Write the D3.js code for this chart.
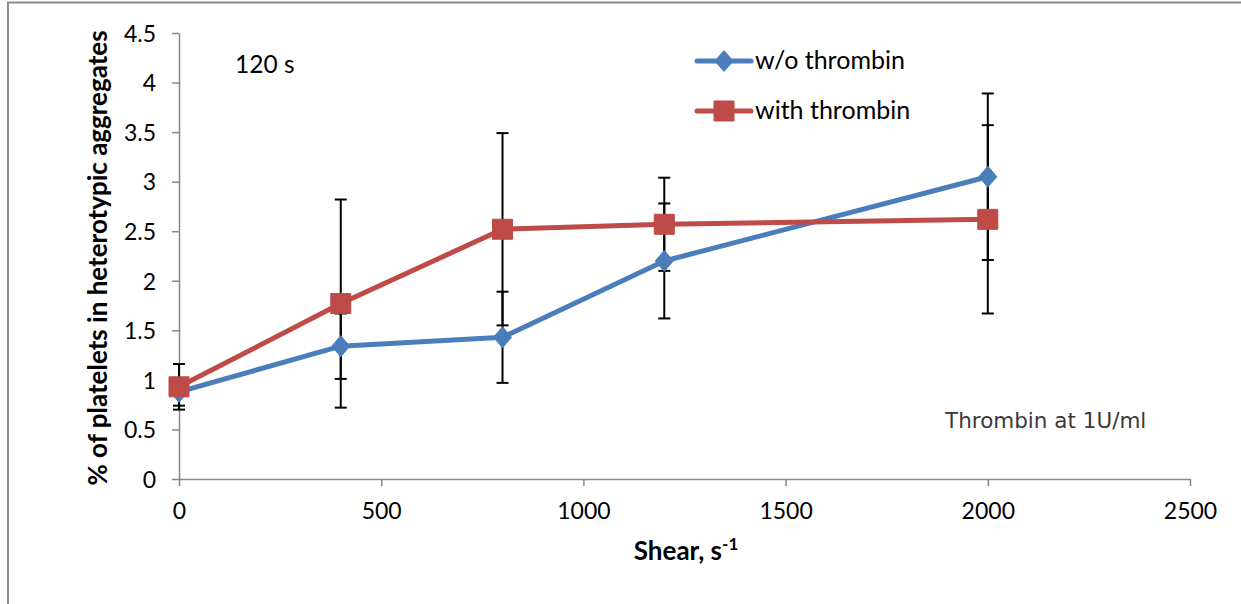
<!DOCTYPE html>
<html>
<head>
<meta charset="utf-8">
<script src="https://cdn.jsdelivr.net/npm/d3@7"></script>
<style>
  html, body { margin: 0; padding: 0; background: #fff; }
  svg { display: block; }
  text { font-family: Lato, "Open Sans", sans-serif; fill: #000; }
</style>
</head>
<body>
<script>
// Shear rates (s^-1)
const shear = [0, 400, 800, 1200, 2000];

// % of platelets in heterotypic aggregates and error half-widths
const withoutThrombin    = [0.88, 1.34, 1.43, 2.20, 3.05];
const withoutThrombinErr = [0.14, 0.33, 0.46, 0.58, 0.84];
const withThrombin       = [0.93, 1.77, 2.52, 2.57, 2.62];
const withThrombinErr    = [0.23, 1.05, 0.97, 0.47, 0.95];

const seriesNames = ["w/o thrombin", "with thrombin"];
const xTicks = [0, 500, 1000, 1500, 2000, 2500];
const yTicks = [0, 0.5, 1, 1.5, 2, 2.5, 3, 3.5, 4, 4.5];

const W = 1241, H = 604;
const blue = "#4A7EBB", red = "#BE4B48", axisGrey = "#868686";

const svg = d3.select("body").append("svg").attr("width", W).attr("height", H);

// outer chart frame (top and left edges)
svg.append("line").attr("x1", 7).attr("x2", W).attr("y1", 2.5).attr("y2", 2.5)
  .attr("stroke", "#8c8c8c").attr("stroke-width", 2);
svg.append("line").attr("x1", 8).attr("x2", 8).attr("y1", 2).attr("y2", H)
  .attr("stroke", "#8c8c8c").attr("stroke-width", 2);

const x = d3.scaleLinear().domain([0, 2500]).range([179, 1190]);
const y = d3.scaleLinear().domain([0, 4.5]).range([479, 33]);

// axes
const yAxis = svg.append("g").attr("transform", `translate(${x(0)},0)`)
  .call(d3.axisLeft(y).tickValues(yTicks).tickFormat(d => String(d)).tickSize(7).tickSizeOuter(0).tickPadding(16));
const xAxis = svg.append("g").attr("transform", `translate(0,${y(0)})`)
  .call(d3.axisBottom(x).tickValues(xTicks).tickFormat(d => String(d)).tickSize(7).tickSizeOuter(0));

[yAxis, xAxis].forEach(g => {
  g.select(".domain").attr("stroke", axisGrey).attr("stroke-width", 1.5);
  g.selectAll(".tick line").attr("stroke", axisGrey).attr("stroke-width", 1.5);
  g.selectAll(".tick text").attr("fill", "#000").style("font-size", "23px")
    .style("font-family", "Lato, 'Open Sans', sans-serif");
});
yAxis.selectAll(".tick text").attr("dy", "0.36em");
xAxis.selectAll(".tick text").attr("y", 40).attr("dy", null);

// axis titles
svg.append("text")
  .attr("transform", `translate(107,${(y(0) + y(4.5)) / 2 + 2}) rotate(-90)`)
  .attr("text-anchor", "middle")
  .style("font-size", "26px").style("font-weight", "bold")
  .text("% of platelets in heterotypic aggregates");

const xt = svg.append("text").attr("x", 686).attr("y", 560).attr("text-anchor", "middle")
  .style("font-size", "26px").style("font-weight", "bold");
xt.append("tspan").text("Shear, s");
xt.append("tspan").attr("dy", -10).style("font-size", "17px").text("-1");

// annotations
svg.append("text").attr("x", 235).attr("y", 73).style("font-size", "24.5px").text("120 s");
svg.append("text").attr("x", 945).attr("y", 428)
  .style("font-family", "'DejaVu Sans', sans-serif").style("font-size", "21.5px")
  .attr("fill", "#3a3a3a").style("fill", "#3a3a3a")
  .text("Thrombin at 1U/ml");

const series = [
  { name: seriesNames[0], values: withoutThrombin, err: withoutThrombinErr, color: blue, marker: "diamond" },
  { name: seriesNames[1], values: withThrombin, err: withThrombinErr, color: red, marker: "square" }
];

// error bars
series.forEach(s => {
  const g = svg.append("g").attr("stroke", "#000").attr("stroke-width", 2);
  shear.forEach((sx, i) => {
    const cx = x(sx), lo = y(s.values[i] - s.err[i]), hi = y(s.values[i] + s.err[i]);
    g.append("line").attr("x1", cx).attr("x2", cx).attr("y1", lo).attr("y2", hi);
    g.append("line").attr("x1", cx - 6).attr("x2", cx + 6).attr("y1", lo).attr("y2", lo);
    g.append("line").attr("x1", cx - 6).attr("x2", cx + 6).attr("y1", hi).attr("y2", hi);
  });
});

const line = d3.line().x(d => x(d[0])).y(d => y(d[1]));
const diamond = "M0,-10.5L9,0L0,10.5L-9,0Z";
const square = "M-10,-10H10V10H-10Z";

function drawMarker(g, type, cx, cy, color) {
  g.append("path").attr("d", type === "diamond" ? diamond : square)
    .attr("transform", `translate(${cx},${cy})`)
    .attr("fill", color).attr("stroke", color).attr("stroke-width", 1);
}

series.forEach(s => {
  svg.append("path").datum(shear.map((sx, i) => [sx, s.values[i]]))
    .attr("d", line).attr("fill", "none").attr("stroke", s.color)
    .attr("stroke-width", 5).attr("stroke-linejoin", "round");
});
series.forEach(s => {
  const g = svg.append("g");
  shear.forEach((sx, i) => drawMarker(g, s.marker, x(sx), y(s.values[i]), s.color));
});

// legend
series.forEach((s, i) => {
  const ly = 61 + i * 50;
  svg.append("line").attr("x1", 697).attr("x2", 751).attr("y1", ly).attr("y2", ly)
    .attr("stroke", s.color).attr("stroke-width", 5).attr("stroke-linecap", "round");
  drawMarker(svg, s.marker, 724, ly, s.color);
  svg.append("text").attr("x", 755).attr("y", ly + 8).style("font-size", "25px").text(s.name);
});
</script>
</body>
</html>
